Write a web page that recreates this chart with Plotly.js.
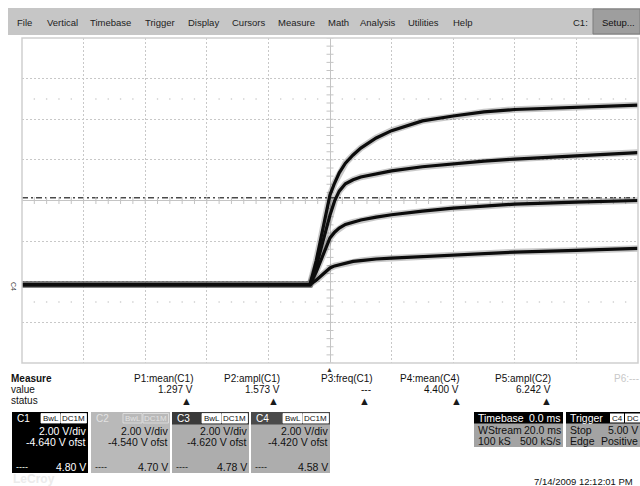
<!DOCTYPE html>
<html><head><meta charset="utf-8">
<script src="https://cdn.plot.ly/plotly-3.0.1.min.js"></script>
<style>html,body{margin:0;padding:0;background:#fff;overflow:hidden}#chart{width:640px;height:486px}</style>
</head><body><div id="chart"></div>
<script>
// ---------- data (time in ms, vertical position in screen divisions) ----------
const timeMs   = [-100, -6.5, -4.5, -2, 0, 1.5, 3, 5, 7.5, 10, 15, 20, 30, 40, 50, 60, 80, 100];
const traceTop = [-2.07, -2.07, -1.49, -0.58, 0.14, 0.43, 0.68, 0.92, 1.12, 1.29, 1.54, 1.72, 1.96, 2.08, 2.18, 2.24, 2.30, 2.35];
const traceUpperMid = [-2.07, -2.07, -1.63, -0.90, -0.36, -0.01, 0.23, 0.41, 0.51, 0.58, 0.65, 0.73, 0.83, 0.90, 0.97, 1.02, 1.11, 1.18];
const traceLowerMid = [-2.07, -2.07, -1.76, -1.27, -0.92, -0.78, -0.68, -0.59, -0.53, -0.48, -0.41, -0.35, -0.26, -0.19, -0.14, -0.09, -0.04, 0.0];
const traceBottom = [-2.07, -2.07, -1.96, -1.79, -1.66, -1.61, -1.58, -1.54, -1.50, -1.48, -1.44, -1.42, -1.38, -1.34, -1.31, -1.27, -1.23, -1.18];
const triggerLevelDiv = 0.07;

const menuItems = ['File','Vertical','Timebase','Trigger','Display','Cursors','Measure','Math','Analysis','Utilities','Help'];
const measureNames  = ['P1:mean(C1)','P2:ampl(C1)','P3:freq(C1)','P4:mean(C4)','P5:ampl(C2)'];
const measureValues = ['1.297 V','1.573 V','---','4.400 V','6.242 V'];
const channelNames   = ['C1','C2','C3','C4'];
const channelVdiv    = ['2.00 V/div','2.00 V/div','2.00 V/div','2.00 V/div'];
const channelOffset  = ['-4.640 V ofst','-4.540 V ofst','-4.620 V ofst','-4.420 V ofst'];
const channelLevel   = ['4.80 V','4.70 V','4.78 V','4.58 V'];
const timebaseRows = [['Timebase','0.0 ms'],['WStream','20.0 ms'],['100 kS','500 kS/s']];
const triggerRows  = [['Trigger',''],['Stop','5.00 V'],['Edge','Positive']];
const dateText = '7/14/2009 12:12:01 PM';

// ---------- layout helpers (pixel -> paper) ----------
const L=22, T=38, W=616, H=325;
const FONT='Liberation Sans, Arial, sans-serif';
const px = x => (x-L)/W, py = y => (T+H-y)/H;
const ann=[], shp=[];
function txt(x,y,s,o={}){ann.push({xref:'paper',yref:'paper',x:px(x),y:py(y),text:s,showarrow:false,
  xanchor:o.a||'left',yanchor:'middle',borderpad:0,textangle:o.rot||0,
  font:{family:FONT,size:o.size||10,color:o.color||'#111',weight:o.bold?'bold':'normal'}});}
function rect(x0,y0,x1,y1,fill,line,lw){shp.push({type:'rect',xref:'paper',yref:'paper',x0:px(x0),x1:px(x1),y0:py(y0),y1:py(y1),
  fillcolor:fill,line:{color:line||fill,width:lw===undefined?(line?1:0):lw},layer:'above'});}

// menu bar
rect(8,8,640,35,'#c6c6c6');
rect(593,9,640,34,'#9e9e9e','#7c7c7c',1);
const menuPos=[16,46,89,144,187,231,277,327,359,407,452];
menuItems.forEach((m,i)=>txt(menuPos[i],22.5,m,{color:'#222',size:9.5}));
txt(572,22.5,'C1:',{color:'#222',size:9.5});
txt(601,22.5,'Setup...',{color:'#111',size:9.5});

// plot frame
rect(L,T,L+W,T+H,'rgba(0,0,0,0)','#cfcfcf',1.5);
// trigger position marker + ground marker
txt(329,369,'▲',{a:'center',size:7,color:'#333'});
txt(14,286,'C4',{a:'center',size:7,color:'#444',rot:90});

// measure table
txt(10,378,'Measure',{bold:true,size:10});
txt(10,389.5,'value');
txt(10,400.5,'status');
const measRight=[194,281,374,460,552];
const statusX=[186,273,364,456,546];
measureNames.forEach((n,i)=>{
  txt(measRight[i],378,n,{a:'right'});
  txt(i===2?372:measRight[i],389.5,measureValues[i],{a:'right'});
  txt(statusX[i],400.5,'▲',{a:'center',size:11,color:'#1a1a1a'});
});
txt(640,378,'P6:---',{a:'right',color:'#c8c8c8'});

// channel boxes
const chX=[[12,88],[91,170],[172,249],[251,330]];
const chHead=['#000','#b9b9b9','#3a3a3a','#4a4a4a'];
const chBody=['#000','#b9b9b9','#adadad','#adadad'];
const chHeadTxt=['#fff','#e2e2e2','#fff','#fff'];
const chBodyTxt=['#fff','#111','#111','#111'];
channelNames.forEach((c,i)=>{
  const [x0,x1]=chX[i];
  rect(x0,412,x1,473,chBody[i]);
  rect(x0,412,x1,424.5,chHead[i]);
  txt(x0+4,418,c,{color:chHeadTxt[i],size:10});
  const boxFill = i===1?'rgba(0,0,0,0)':'#fff';
  const boxTxt  = i===1?'#e2e2e2':'#111';
  rect(x1-47,413.5,x1-28,423,boxFill,i===1?'#e2e2e2':'#fff',0.8);
  rect(x1-27,413.5,x1-1.5,423,boxFill,i===1?'#e2e2e2':'#fff',0.8);
  txt(x1-37.5,418.5,'BwL',{a:'center',size:8,color:boxTxt});
  txt(x1-14.25,418.5,'DC1M',{a:'center',size:8,color:boxTxt});
  txt(x1-1,431,channelVdiv[i],{a:'right',size:10.5,color:chBodyTxt[i]});
  txt(x1-1,442,channelOffset[i],{a:'right',size:10.5,color:chBodyTxt[i]});
  txt(x0+3,467,'----',{size:9,color:chBodyTxt[i]});
  txt(x1-1,467,channelLevel[i],{a:'right',size:10.5,color:chBodyTxt[i]});
});

// timebase & trigger boxes
[[474,563,timebaseRows],[566,640,triggerRows]].forEach(([x0,x1,rows])=>{
  rect(x0,412,x1,447,'#a3a3a3');
  rect(x0,412,x1,423.5,'#000');
  rows.forEach((r,j)=>{
    const y=418+j*11.5, col=j===0?'#fff':'#111';
    txt(x0+3,y,r[0],{size:10.5,color:col});
    if(r[1]) txt(x1-1,y,r[1],{a:'right',size:10.5,color:col});
  });
});
rect(610,413.5,624,422.5,'#fff'); rect(625,413.5,640,422.5,'#fff');
txt(617,418,'C4',{a:'center',size:8,color:'#111'});
txt(632.5,418,'DC',{a:'center',size:8,color:'#111'});

// footer
txt(634,481.5,dateText,{a:'right',size:9.5});
txt(12,479,'LeCroy',{size:12,bold:true,color:'#ebebeb'});

// trigger level line
shp.push({type:'line',xref:'paper',yref:'y',x0:0,x1:1,y0:triggerLevelDiv,y1:triggerLevelDiv,
  line:{color:'#4a4a4a',width:1.5,dash:'6px,3px,2px,3px'},layer:'below'});

// ---------- traces ----------
const series=[traceTop,traceUpperMid,traceLowerMid,traceBottom];
const traces=[];
// graticule minor ticks on centre lines
const tx=[],ty=[],vx=[],vy=[],dx=[],dy=[];
for(let t=-100;t<=100;t+=4){tx.push(t);ty.push(0); if(t%20!==0){dx.push(t,t);dy.push(2.5,-2.5);}}
for(let v=-4;v<=4.001;v+=0.2){vx.push(0);vy.push(+v.toFixed(1));}
traces.push({x:tx,y:ty,mode:'markers',marker:{symbol:'line-ns',size:5,line:{width:1,color:'#c4c4c4'}},hoverinfo:'skip'});
traces.push({x:vx,y:vy,mode:'markers',marker:{symbol:'line-ew',size:5,line:{width:1,color:'#c4c4c4'}},hoverinfo:'skip'});
traces.push({x:dx,y:dy,mode:'markers',marker:{symbol:'circle',size:1.6,color:'#c8c8c8'},hoverinfo:'skip'});
series.forEach(s=>traces.push({x:timeMs,y:s,mode:'lines',line:{color:'rgba(60,60,60,0.28)',width:6.5},hoverinfo:'skip'}));
series.forEach(s=>traces.push({x:timeMs,y:s,mode:'lines',line:{color:'#0c0c0c',width:3.2},hoverinfo:'skip'}));

const axisCommon={showticklabels:false,ticks:'',showline:false,zeroline:true,zerolinecolor:'#c4c4c4',zerolinewidth:1,
  gridcolor:'#c8c8c8',griddash:'2px,2px',gridwidth:1,fixedrange:true};
const layout={width:640,height:486,margin:{l:L,r:640-L-W,t:T,b:486-T-H,pad:0},
  paper_bgcolor:'#fff',plot_bgcolor:'#fff',showlegend:false,
  xaxis:Object.assign({range:[-100,100],dtick:20,tick0:0},axisCommon),
  yaxis:Object.assign({range:[-4,4],dtick:1,tick0:0},axisCommon),
  annotations:ann,shapes:shp};
Plotly.newPlot('chart',traces,layout,{staticPlot:true,displayModeBar:false});
</script></body></html>
